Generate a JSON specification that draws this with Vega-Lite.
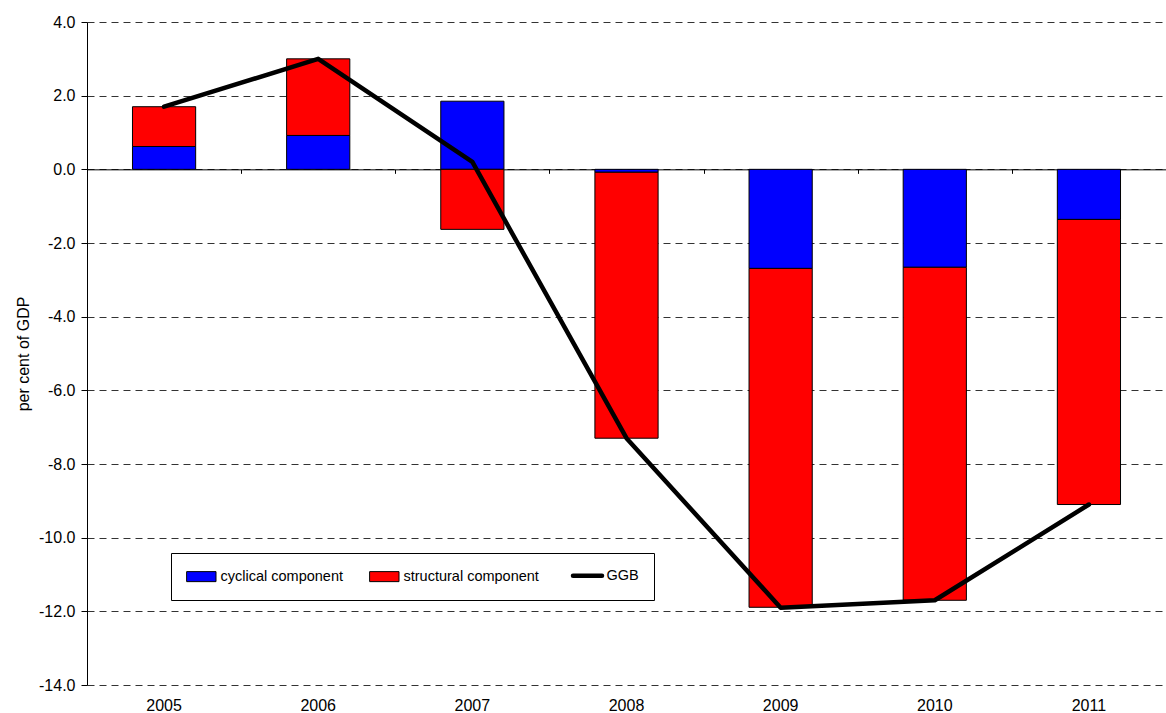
{
  "$schema": "https://vega.github.io/schema/vega-lite/v6.json",
  "width": 1079,
  "height": 663,
  "autosize": {"type": "none"},
  "padding": {"left": 87, "top": 22, "right": 0, "bottom": 28},
  "background": "white",
  "config": {
    "font": "Liberation Sans",
    "view": {"stroke": null},
    "axis": {"labelColor": "black", "titleColor": "black", "labelFont": "Liberation Sans", "titleFont": "Liberation Sans"}
  },
  "datasets": {
    "bars": [
      {"year": "2005", "component": "cyclical component", "value": 0.62, "order": 1},
      {"year": "2005", "component": "structural component", "value": 1.08, "order": 2},
      {"year": "2006", "component": "cyclical component", "value": 0.92, "order": 1},
      {"year": "2006", "component": "structural component", "value": 2.08, "order": 2},
      {"year": "2007", "component": "cyclical component", "value": 1.85, "order": 1},
      {"year": "2007", "component": "structural component", "value": -1.63, "order": 2},
      {"year": "2008", "component": "cyclical component", "value": -0.08, "order": 1},
      {"year": "2008", "component": "structural component", "value": -7.22, "order": 2},
      {"year": "2009", "component": "cyclical component", "value": -2.69, "order": 1},
      {"year": "2009", "component": "structural component", "value": -9.2, "order": 2},
      {"year": "2010", "component": "cyclical component", "value": -2.66, "order": 1},
      {"year": "2010", "component": "structural component", "value": -9.04, "order": 2},
      {"year": "2011", "component": "cyclical component", "value": -1.36, "order": 1},
      {"year": "2011", "component": "structural component", "value": -7.74, "order": 2}
    ],
    "ggb": [
      {"year": "2005", "value": 1.7},
      {"year": "2006", "value": 3.0},
      {"year": "2007", "value": 0.2},
      {"year": "2008", "value": -7.3},
      {"year": "2009", "value": -11.9},
      {"year": "2010", "value": -11.7},
      {"year": "2011", "value": -9.1}
    ]
  },
  "layer": [
    {
      "data": {"name": "bars"},
      "mark": {"type": "bar", "width": {"band": 0.41}, "stroke": "black", "strokeWidth": 1},
      "encoding": {
        "x": {
          "field": "year", "type": "nominal",
          "scale": {"paddingInner": 0, "paddingOuter": 0},
          "axis": {"title": null, "labelAngle": 0, "ticks": false, "domain": false, "labelPadding": 12, "labelFontSize": 16, "grid": false}
        },
        "y": {
          "field": "value", "type": "quantitative", "stack": "zero",
          "scale": {"domain": [-14, 4], "nice": false, "zero": false},
          "axis": {
            "title": "per cent of GDP", "titleFontSize": 16, "titleFontWeight": "normal", "titlePadding": 7,
            "values": [-14, -12, -10, -8, -6, -4, -2, 0, 2, 4],
            "labelExpr": "datum.value < 0 ? '-' + format(-datum.value, '.1f') : format(datum.value, '.1f')",
            "labelFontSize": 16, "labelPadding": 6, "tickSize": 6, "tickColor": "black",
            "domainColor": "black", "grid": true, "gridDash": [7, 5], "gridColor": "#333333", "gridOpacity": 1
          }
        },
        "color": {
          "field": "component", "type": "nominal",
          "scale": {"domain": ["cyclical component", "structural component", "GGB"], "range": ["#0000FF", "#FF0000", "#000000"]},
          "legend": {
            "title": null, "orient": "none", "legendX": 84, "legendY": 531, "direction": "horizontal",
            "strokeColor": "black", "fillColor": "white", "padding": 15, "columnPadding": 25,
            "labelFontSize": 14.5, "labelFont": "Liberation Sans", "labelColor": "black", "labelOffset": 20,
            "symbolSize": 841, "symbolStrokeColor": "black", "symbolStrokeWidth": 1,
            "encode": {
              "symbols": {
                "update": {
                  "x": {"value": 15.5},
                  "shape": {"signal": "datum.value === 'GGB' ? 'M-1,0H1' : 'M-1,-0.345H1V0.345H-1Z'"},
                  "fill": {"signal": "datum.value === 'GGB' ? 'transparent' : (datum.value === 'cyclical component' ? '#0000FF' : '#FF0000')"},
                  "stroke": {"value": "black"},
                  "strokeWidth": {"signal": "datum.value === 'GGB' ? 4.5 : 1"},
                  "strokeCap": {"value": "round"},
                  "opacity": {"value": 1}
                }
              }
            }
          }
        },
        "order": {"field": "order", "type": "quantitative"}
      }
    },
    {
      "data": {"name": "ggb"},
      "mark": {"type": "line", "color": "black", "strokeWidth": 4.5, "strokeCap": "round", "strokeJoin": "round"},
      "encoding": {
        "x": {
          "field": "year", "type": "nominal",
          "axis": {"title": null, "orient": "bottom", "offset": -515.67, "labels": false, "ticks": true, "tickBand": "extent", "tickSize": 4, "tickColor": "black", "domain": true, "domainColor": "black", "grid": false}
        },
        "y": {"field": "value", "type": "quantitative"}
      }
    }
  ],
  "resolve": {"axis": {"x": "independent"}}
}
